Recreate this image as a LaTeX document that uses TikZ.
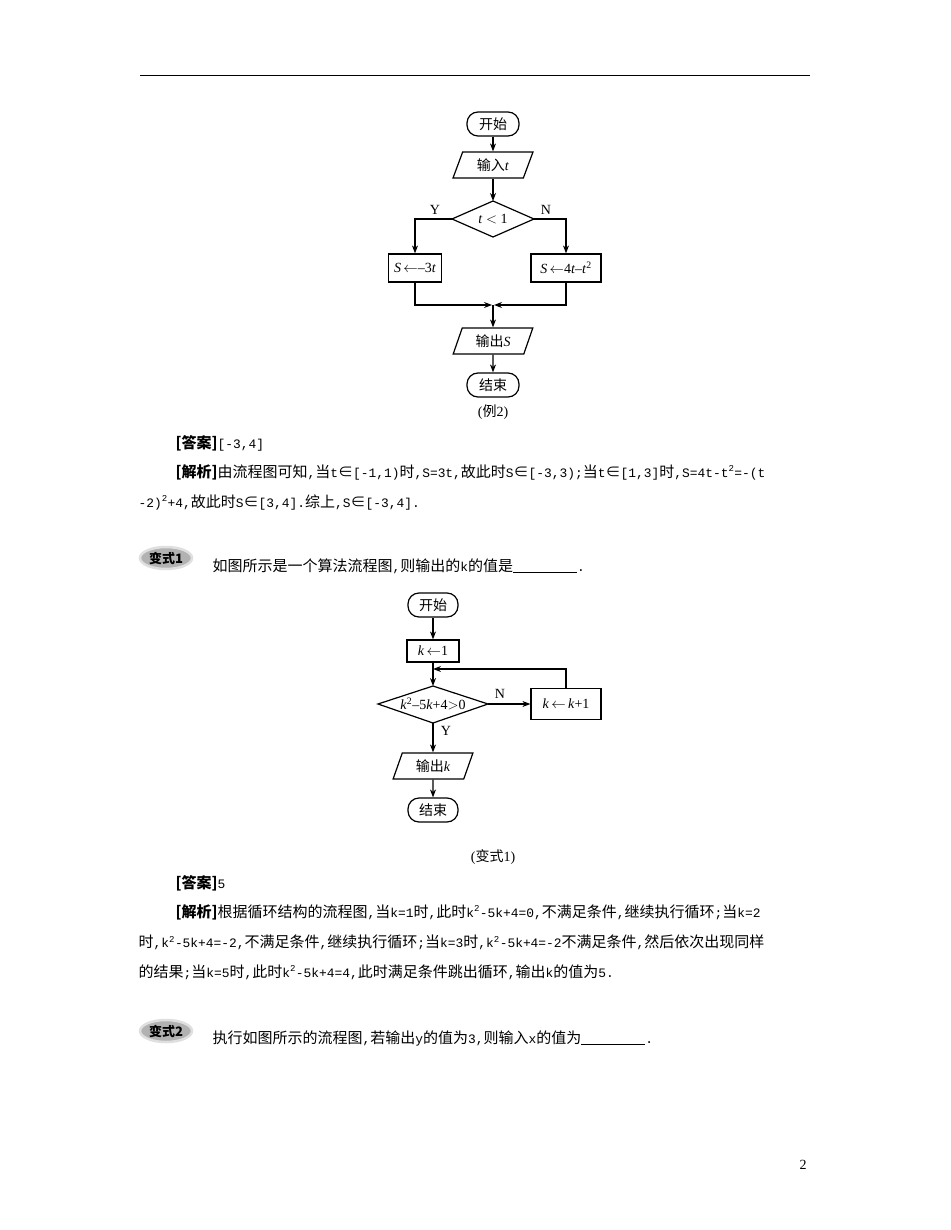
\documentclass[tikz,border=0pt]{standalone}
\usepackage{fontspec}
\setmainfont{Liberation Serif}
\newfontfamily\monofam{Liberation Mono}[Scale=0.86]
\newfontfamily\zhfont{Noto Sans CJK SC}
\newcommand{\zh}[1]{{\zhfont #1}}
\newcommand{\vi}[1]{\textit{#1}}
\usetikzlibrary{shapes.geometric,arrows.meta}
\begin{document}
\begin{tikzpicture}[x=1pt,y=-1pt,line width=1.2pt,
  >={Stealth[length=8pt,width=6pt]},
  ff/.style={font=\fontsize{14}{16}\selectfont},
  term/.style={ff,draw,rounded corners=11pt,minimum width=52pt,minimum height=24pt,inner sep=1pt},
  proc/.style={ff,draw,rectangle,minimum height=28pt,inner sep=2pt},
  io/.style={ff,draw,trapezium,trapezium left angle=70,trapezium right angle=110,trapezium stretches=true,minimum width=80pt,minimum height=26pt,inner sep=1pt},
  lbl/.style={ff},
  txt/.style={anchor=west,inner sep=0pt,font=\fontsize{15}{16}\monofam},
  badge/.style={ellipse,fill=gray!60,draw=gray!25,line width=2.5pt,minimum width=52pt,minimum height=22pt,inner sep=0pt,font=\fontsize{13}{14}\selectfont\bfseries}]
\useasboundingbox[fill=white] (0,0) rectangle (950,1230);
\draw[line width=0.8pt] (140,75) -- (810,75);
% Flowchart 1
\node[term] (s1) at (493,124) {\zh{开始}};
\node[io] (in1) at (493,165) {\zh{输入}\vi{t}};
\node[ff,inner sep=0pt] (d1) at (493,219) {\vi{t} $<$ 1};
\coordinate (d1n) at (493,201); \coordinate (d1s) at (493,237);
\coordinate (d1w) at (452,219); \coordinate (d1e) at (534,219);
\draw (d1n) -- (d1e) -- (d1s) -- (d1w) -- cycle;
\node[proc,minimum width=53pt] (a1) at (415,268) {\vi{S}\,$\leftarrow$–3\vi{t}};
\node[proc,minimum width=70pt] (b1) at (566,268) {\vi{S}\,$\leftarrow$4\vi{t}–\vi{t}\textsuperscript{2}};
\node[io] (o1) at (493,341) {\zh{输出}\vi{S}};
\node[term] (e1) at (493,385) {\zh{结束}};
\coordinate (m1) at (493,305);
\node[lbl] (y1) at (435,210) {Y};
\node[lbl] (n1) at (546,210) {N};
\draw[->] (s1) -- (in1);
\draw[->] (in1) -- (d1n);
\draw[->] (d1w) -| (a1.north);
\draw[->] (d1e) -| (b1.north);
\draw[->] (a1.south) |- ([xshift=-1pt]m1);
\draw[->] (b1.south) |- ([xshift=1pt]m1);
\draw[->] (m1) -- (o1);
\draw[->] (o1) -- (e1);
\node[lbl] (c1) at (493,412) {(\zh{例}2)};
% text block 1
\node[txt] (t1) at (175,443) {\zh{\bfseries[答案]}[-3,4]};
\node[txt] (t2) at (175,472) {\zh{\bfseries[解析]}\zh{由流程图可知},\zh{当}t\zh{∈}[-1,1)\zh{时},S=3t,\zh{故此时}S\zh{∈}[-3,3);\zh{当}t\zh{∈}[1,3]\zh{时},S=4t-t\textsuperscript{2}=-(t};
\node[txt] (t3) at (138,502) {-2)\textsuperscript{2}+4,\zh{故此时}S\zh{∈}[3,4].\zh{综上},S\zh{∈}[-3,4].};
\node[badge] (bd1) at (166,558) {\zh{变式1}};
\node[txt] (t4) at (212,566) {\zh{如图所示是一个算法流程图},\zh{则输出的}k\zh{的值是}\rule[-2pt]{64pt}{0.7pt}.};
% Flowchart 2
\node[term,minimum width=50pt] (s2) at (433,605) {\zh{开始}};
\node[proc,minimum width=52pt,minimum height=22pt] (k1) at (433,651) {\vi{k}\,$\leftarrow$1};
\node[ff,inner sep=0pt] (d2) at (433,704) {\vi{k}\textsuperscript{2}–5\vi{k}+4$>$0};
\coordinate (d2n) at (433,686); \coordinate (d2s) at (433,723);
\coordinate (d2w) at (378,704); \coordinate (d2e) at (488,704);
\draw (d2n) -- (d2e) -- (d2s) -- (d2w) -- cycle;
\node[proc,minimum width=70pt,minimum height=31pt] (kk) at (566,704) {\vi{k}\,$\leftarrow$\,\vi{k}+1};
\node[io] (o2) at (433,766) {\zh{输出}\vi{k}};
\node[term,minimum width=50pt] (e2) at (433,810) {\zh{结束}};
\coordinate (m2) at (433,669);
\node[lbl] (n2) at (500,694) {N};
\node[lbl] (y2) at (446,731) {Y};
\draw[->] (s2) -- (k1);
\draw (k1) -- (m2);
\draw[->] (m2) -- (d2n);
\draw[->] (d2e) -- (kk);
\draw[->] (kk.north) |- (m2);
\draw[->] (d2s) -- (o2);
\draw[->] (o2) -- (e2);
\node[lbl] (c2) at (493,857) {(\zh{变式}1)};
% text block 2
\node[txt] (u1) at (175,883) {\zh{\bfseries[答案]}5};
\node[txt] (u2) at (175,912) {\zh{\bfseries[解析]}\zh{根据循环结构的流程图},\zh{当}k=1\zh{时},\zh{此时}k\textsuperscript{2}-5k+4=0,\zh{不满足条件},\zh{继续执行循环};\zh{当}k=2};
\node[txt] (u3) at (138,942) {\zh{时},k\textsuperscript{2}-5k+4=-2,\zh{不满足条件},\zh{继续执行循环};\zh{当}k=3\zh{时},k\textsuperscript{2}-5k+4=-2\zh{不满足条件},\zh{然后依次出现同样}};
\node[txt] (u4) at (138,972) {\zh{的结果};\zh{当}k=5\zh{时},\zh{此时}k\textsuperscript{2}-5k+4=4,\zh{此时满足条件跳出循环},\zh{输出}k\zh{的值为}5.};
\node[badge] (bd2) at (166,1031) {\zh{变式2}};
\node[txt] (u5) at (212,1038) {\zh{执行如图所示的流程图},\zh{若输出}y\zh{的值为}3,\zh{则输入}x\zh{的值为}\rule[-2pt]{64pt}{0.7pt}.};
\node[lbl] (pg) at (803,1165) {2};
\end{tikzpicture}
\end{document}
